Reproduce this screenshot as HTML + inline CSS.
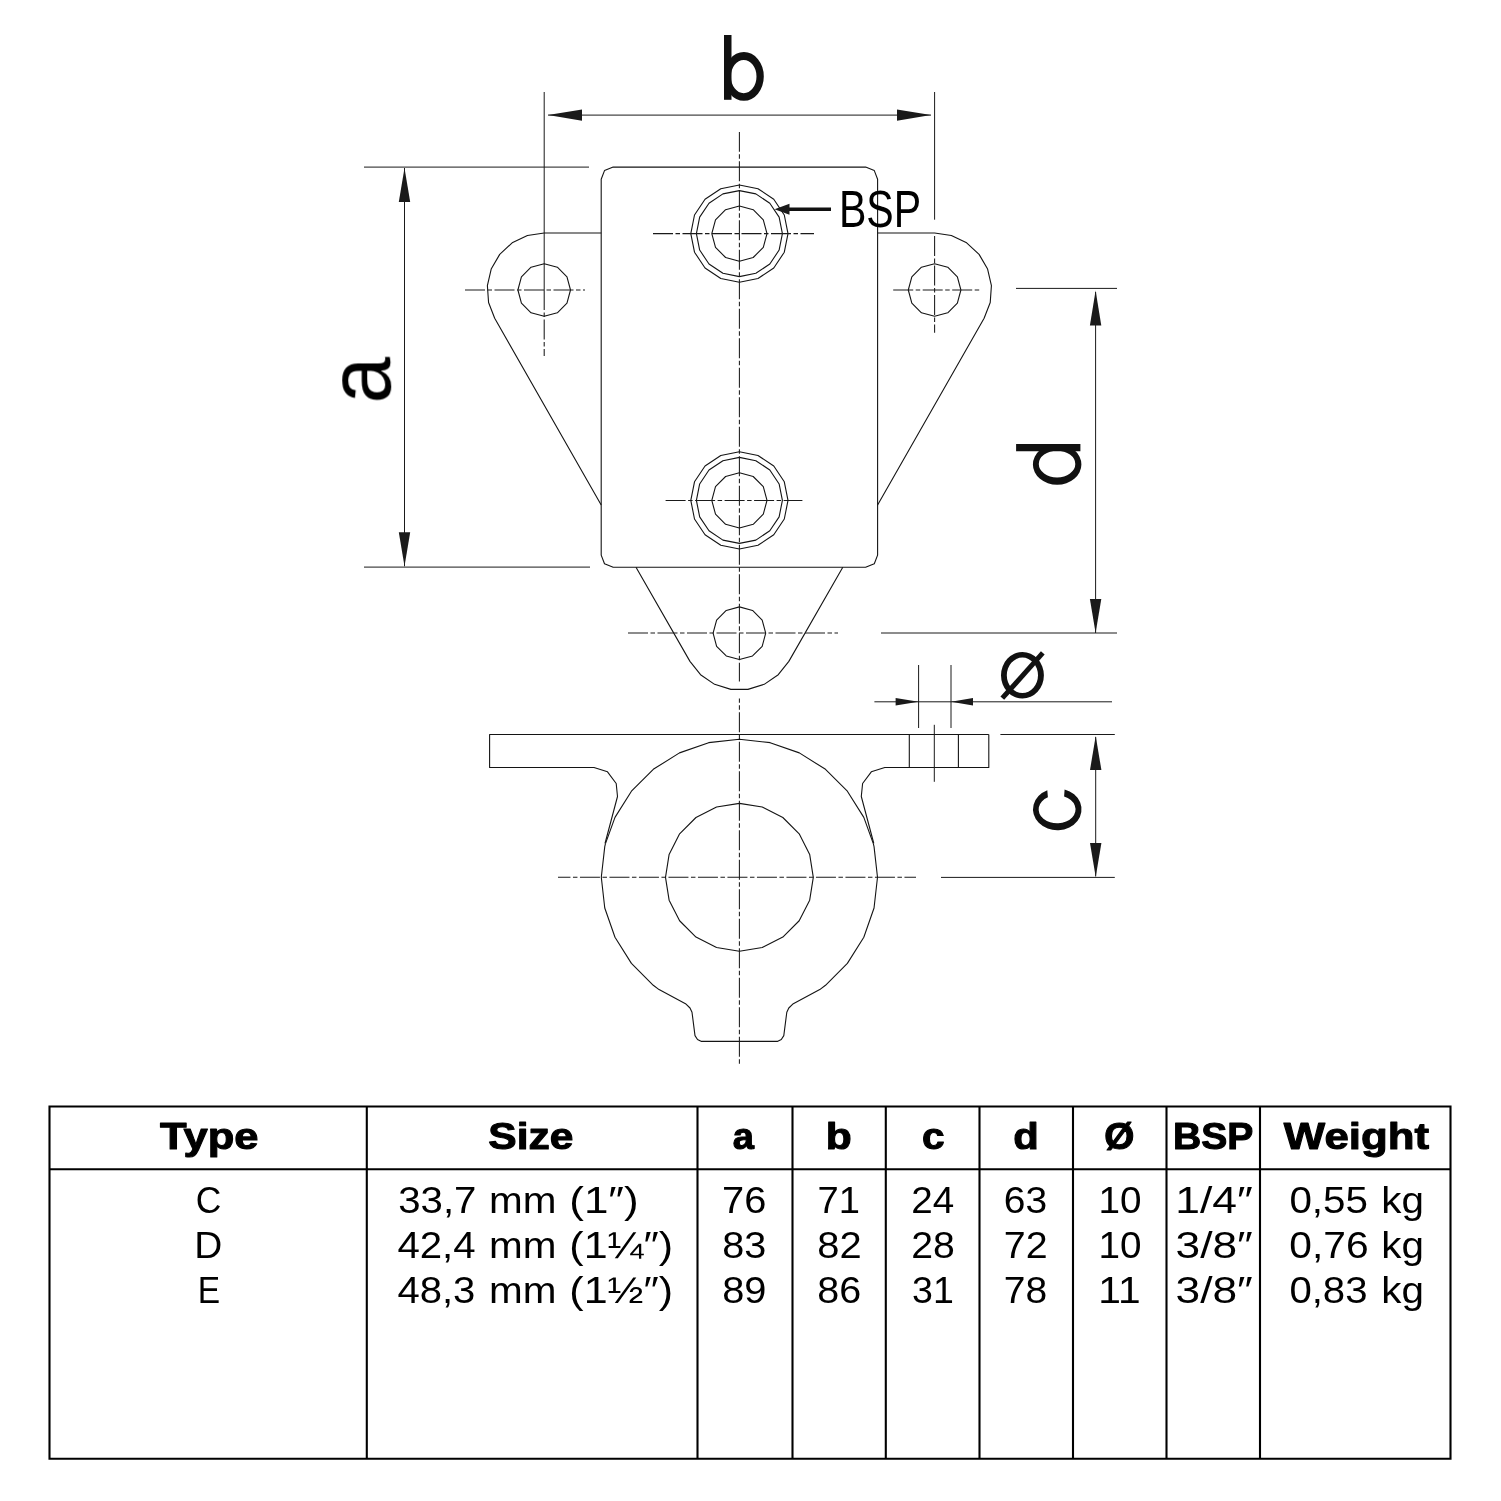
<!DOCTYPE html><html><head><meta charset="utf-8"><style>html,body{margin:0;padding:0;background:#fff;}svg{display:block}</style></head><body>
<svg width="1501" height="1501" viewBox="0 0 1501 1501">
<rect width="1501" height="1501" fill="#fff"/>
<g fill="none" stroke="#141414" stroke-width="1.1" stroke-linejoin="round"><path d="M601.2,179.3 604.5,170.6 613.2,167.1 865.6,167.1 874.3,170.6 877.6,179.3 877.6,555.1 874.3,563.8 865.6,567.3 613.2,567.3 604.5,563.8 601.2,555.1 Z"/><path d="M601.2,233 544.2,233 527.44,235.52 512.16,242.86 499.72,254.36 491.2,269.02 487.38,285.53 488.57,302.43 494.69,318.24 601.2,505"/><path d="M877.6,233 934.6,233 951.36,235.52 966.64,242.86 979.08,254.36 987.6,269.02 991.42,285.53 990.23,302.43 984.11,318.24 877.6,505"/><path d="M636,567.3 689.96,661.36 700.55,674.71 714.61,684.33 730.88,689.36 747.92,689.36 764.19,684.33 778.25,674.71 788.84,661.36 842.8,567.3"/><path d="M570.5,290 566.98,303.15 557.35,312.78 544.2,316.3 531.05,312.78 521.42,303.15 517.9,290 521.42,276.85 531.05,267.22 544.2,263.7 557.35,267.22 566.98,276.85 Z"/><path d="M960.9,290 957.38,303.15 947.75,312.78 934.6,316.3 921.45,312.78 911.82,303.15 908.3,290 911.82,276.85 921.45,267.22 934.6,263.7 947.75,267.22 957.38,276.85 Z"/><path d="M765.7,633.2 762.18,646.35 752.55,655.98 739.4,659.5 726.25,655.98 716.62,646.35 713.1,633.2 716.62,620.05 726.25,610.42 739.4,606.9 752.55,610.42 762.18,620.05 Z"/><path d="M788,233.6 784.3,252.2 773.77,267.97 758,278.5 739.4,282.2 720.8,278.5 705.03,267.97 694.5,252.2 690.8,233.6 694.5,215 705.03,199.23 720.8,188.7 739.4,185 758,188.7 773.77,199.23 784.3,215 Z"/><path d="M782.4,233.6 779.13,250.06 769.81,264.01 755.86,273.33 739.4,276.6 722.94,273.33 708.99,264.01 699.67,250.06 696.4,233.6 699.67,217.14 708.99,203.19 722.94,193.87 739.4,190.6 755.86,193.87 769.81,203.19 779.13,217.14 Z"/><path d="M767,233.6 763.3,247.4 753.2,257.5 739.4,261.2 725.6,257.5 715.5,247.4 711.8,233.6 715.5,219.8 725.6,209.7 739.4,206 753.2,209.7 763.3,219.8 Z"/><path d="M788,500.4 784.3,519 773.77,534.77 758,545.3 739.4,549 720.8,545.3 705.03,534.77 694.5,519 690.8,500.4 694.5,481.8 705.03,466.03 720.8,455.5 739.4,451.8 758,455.5 773.77,466.03 784.3,481.8 Z"/><path d="M782.4,500.4 779.13,516.86 769.81,530.81 755.86,540.13 739.4,543.4 722.94,540.13 708.99,530.81 699.67,516.86 696.4,500.4 699.67,483.94 708.99,469.99 722.94,460.67 739.4,457.4 755.86,460.67 769.81,469.99 779.13,483.94 Z"/><path d="M767,500.4 763.3,514.2 753.2,524.3 739.4,528 725.6,524.3 715.5,514.2 711.8,500.4 715.5,486.6 725.6,476.5 739.4,472.8 753.2,476.5 763.3,486.6 Z"/><path d="M988.8,734.5 L489.6,734.5 L489.6,767.5 L594,767.5 L607.5,771.8 L616.2,783.5 L617.5,796.5 L605,843.5"/><path d="M988.8,734.5 L988.8,767.5 L884.8,767.5 L871.3,771.8 L862.6,783.5 L861.3,796.5 L873.8,843.5"/><path d="M605.47,843.62 614.98,817.38 631.43,791.2 653.3,769.33 679.48,752.88 708.67,742.66 739.4,739.2 770.13,742.66 799.32,752.88 825.5,769.33 847.37,791.2 863.82,817.38 873.33,843.62"/><path d="M605.47,843.62 604.76,846.57 601.3,877.3 604.76,908.03 614.98,937.22 631.43,963.4 653.3,985.27 659.04,989.61 685.5,1003.7 690,1008 692,1012.2 695,1035.6 697.5,1039.5 701.5,1041.4 777.3,1041.4 781.3,1039.5 783.8,1035.6 786.8,1012.2 788.8,1008 793.3,1003.7 819.76,989.61 825.5,985.27 847.37,963.4 863.82,937.22 874.04,908.03 877.5,877.3 874.04,846.57 873.33,843.62"/><path d="M813.3,877.3 809.68,900.14 799.19,920.74 782.84,937.09 762.24,947.58 739.4,951.2 716.56,947.58 695.96,937.09 679.61,920.74 669.12,900.14 665.5,877.3 669.12,854.46 679.61,833.86 695.96,817.51 716.56,807.02 739.4,803.4 762.24,807.02 782.84,817.51 799.19,833.86 809.68,854.46 Z"/><path d="M909.3,734.5 L909.3,767.5 M958.4,734.5 L958.4,767.5"/></g>
<g fill="none" stroke="#1a1a1a" stroke-width="1.0"><path d="M934.3,724.8 L934.3,781.8"/><path d="M544.2,92 L544.2,290"/><path d="M934.6,92 L934.6,219.7"/><path d="M548,115.1 L931,115.1"/><path d="M364,167.1 L589,167.1"/><path d="M364,567.1 L590,567.1"/><path d="M404.5,168 L404.5,566.3"/><path d="M1016,288.4 L1117,288.4"/><path d="M881,633 L1117,633"/><path d="M1095.6,292 L1095.6,633"/><path d="M1000.4,734.5 L1114.8,734.5"/><path d="M941,877.4 L1114.8,877.4"/><path d="M1095.7,737 L1095.7,876.4"/><path d="M918.6,665 L918.6,728 M951,665 L951,728"/><path d="M874.4,701.8 L1112,701.8"/></g>
<g fill="none" stroke="#1a1a1a" stroke-width="1.05" stroke-dasharray="20 2.5 4.5 2.5"><path d="M739.4,131.9 L739.4,681.6" stroke-dashoffset="0.15"/><path d="M739.4,698.4 L739.4,1065.5" stroke-dashoffset="15.75"/><path d="M653,233.6 L814,233.6"/><path d="M665.6,500.4 L802.4,500.4"/><path d="M465,290 L585,290"/><path d="M893.2,290 L980,290"/><path d="M628,633 L838,633"/><path d="M544.2,290 L544.2,356"/><path d="M934.6,236 L934.6,332.7"/><path d="M558,877.3 L916,877.3" stroke-dashoffset="7.55"/></g>
<path d="M831,209.25 L788,209.25" stroke="#111" stroke-width="3.6" fill="none"/>
<g fill="#1a1a1a"><path d="M548,115.1 L582,109.4 L582,120.8 Z"/><path d="M931,115.1 L897,120.8 L897,109.4 Z"/><path d="M404.5,168 L410.2,202 L398.8,202 Z"/><path d="M404.5,566.3 L398.8,532.3 L410.2,532.3 Z"/><path d="M1095.6,290.6 L1101.3,325.6 L1089.9,325.6 Z"/><path d="M1095.6,633 L1089.9,599 L1101.3,599 Z"/><path d="M1095.7,736 L1101.4,770 L1090,770 Z"/><path d="M1095.7,877 L1090,843 L1101.4,843 Z"/><path d="M918.6,701.8 L895.6,705.6 L895.6,698 Z"/><path d="M951,701.8 L973,698 L973,705.6 Z"/><path d="M774.5,209.25 L789.5,203.65 L789.5,214.85 Z"/></g>
<g fill="#111" fill-rule="evenodd"><path d="M724,35 L731.5,35 L731.5,99.8 L724,99.8 Z"/><path d="M724,76.4 A19.9,24.4 0 1 1 763.8,76.4 A19.9,24.4 0 1 1 724,76.4 Z M730.9,76.6 A12.8,16.6 0 1 1 756.5,76.6 A12.8,16.6 0 1 1 730.9,76.6 Z"/><path d="M1016.1,444.1 L1080.4,444.1 L1080.4,451.3 L1016.1,451.3 Z"/><path d="M1032.9,464.45 A24.25,20.35 0 1 1 1081.4,464.45 A24.25,20.35 0 1 1 1032.9,464.45 Z M1038.8,464.05 A18.25,13.35 0 1 1 1075.3,464.05 A18.25,13.35 0 1 1 1038.8,464.05 Z"/><path d="M1047.3,790.24 A24.25,20.9 0 1 0 1064.6,789.38 L1064.1,796.55 A18.45,13.9 0 1 1 1047.9,797.33 Z"/><path d="M1001,675.3 A21.45,23.3 0 1 1 1043.9,675.3 A21.45,23.3 0 1 1 1001,675.3 Z M1006.8,675.3 A15.6,17.7 0 1 1 1038,675.3 A15.6,17.7 0 1 1 1006.8,675.3 Z"/><path d="M1004.16,699.87 L1044.66,654.57 L1040.94,651.23 L1000.44,696.53 Z"/></g>
<g fill="none" stroke="#000" stroke-width="2.1"><path d="M49.5,1106.5 L1450.5,1106.5 L1450.5,1458.7 L49.5,1458.7 Z"/><path d="M49.5,1169.2 L1450.5,1169.2"/><path d="M366.8,1106.5 L366.8,1458.7"/><path d="M697.5,1106.5 L697.5,1458.7"/><path d="M792.5,1106.5 L792.5,1458.7"/><path d="M885.8,1106.5 L885.8,1458.7"/><path d="M979.5,1106.5 L979.5,1458.7"/><path d="M1073.0,1106.5 L1073.0,1458.7"/><path d="M1166.5,1106.5 L1166.5,1458.7"/><path d="M1260.0,1106.5 L1260.0,1458.7"/></g>
<g font-family="&quot;Liberation Sans&quot;, sans-serif" font-size="200" fill="#000" style="will-change:transform"><text transform="matrix(0 -0.41863 0.44273 0 389.81 403.47)" font-weight="normal">a</text><text transform="matrix(0.20535 0 0 0.26056 838.91 227.28)" font-weight="normal">BSP</text><text transform="matrix(0.21783 0 0 0.18768 160.11 1149.45)" font-weight="bold" stroke="#000" stroke-width="5.440" stroke-linejoin="round">Type</text><text transform="matrix(0.21292 0 0 0.18768 488.27 1149.45)" font-weight="bold" stroke="#000" stroke-width="5.503" stroke-linejoin="round">Size</text><text transform="matrix(0.19057 0 0 0.18768 732.71 1149.45)" font-weight="bold" stroke="#000" stroke-width="5.816" stroke-linejoin="round">a</text><text transform="matrix(0.21287 0 0 0.18768 825.68 1149.45)" font-weight="bold" stroke="#000" stroke-width="5.503" stroke-linejoin="round">b</text><text transform="matrix(0.20309 0 0 0.18768 921.93 1149.45)" font-weight="bold" stroke="#000" stroke-width="5.634" stroke-linejoin="round">c</text><text transform="matrix(0.20891 0 0 0.18768 1013.28 1149.45)" font-weight="bold" stroke="#000" stroke-width="5.555" stroke-linejoin="round">d</text><text transform="matrix(0.19353 0 0 0.18768 1104.30 1149.45)" font-weight="bold" stroke="#000" stroke-width="5.772" stroke-linejoin="round">Ø</text><text transform="matrix(0.19514 0 0 0.18768 1173.01 1149.45)" font-weight="bold" stroke="#000" stroke-width="5.748" stroke-linejoin="round">BSP</text><text transform="matrix(0.21909 0 0 0.18768 1283.85 1149.45)" font-weight="bold" stroke="#000" stroke-width="5.425" stroke-linejoin="round">Weight</text><text transform="matrix(0.17698 0 0 0.18043 195.63 1212.90)" font-weight="normal">C</text><text transform="matrix(0.20108 0 0 0.18043 398.19 1212.90)" font-weight="normal">33,7</text><text transform="matrix(0.20261 0 0 0.18043 489.07 1212.90)" font-weight="normal">mm</text><text transform="matrix(0.21993 0 0 0.18043 569.26 1212.90)" font-weight="normal">(1″)</text><text transform="matrix(0.19902 0 0 0.18043 722.01 1212.90)" font-weight="normal">76</text><text transform="matrix(0.19064 0 0 0.18043 817.59 1212.90)" font-weight="normal">71</text><text transform="matrix(0.19324 0 0 0.18043 911.27 1212.90)" font-weight="normal">24</text><text transform="matrix(0.19510 0 0 0.18043 1003.85 1212.90)" font-weight="normal">63</text><text transform="matrix(0.19350 0 0 0.18043 1098.40 1212.90)" font-weight="normal">10</text><text transform="matrix(0.22212 0 0 0.18043 1175.27 1212.90)" font-weight="normal">1/4″</text><text transform="matrix(0.20188 0 0 0.18043 1289.38 1212.90)" font-weight="normal">0,55</text><text transform="matrix(0.20216 0 0 0.18043 1381.17 1212.90)" font-weight="normal">kg</text><text transform="matrix(0.19412 0 0 0.18043 194.29 1257.60)" font-weight="normal">D</text><text transform="matrix(0.20106 0 0 0.18043 397.39 1257.60)" font-weight="normal">42,4</text><text transform="matrix(0.20261 0 0 0.18043 489.07 1257.60)" font-weight="normal">mm</text><text transform="matrix(0.21528 0 0 0.18043 569.32 1257.60)" font-weight="normal">(1¼″)</text><text transform="matrix(0.19805 0 0 0.18043 722.22 1257.60)" font-weight="normal">83</text><text transform="matrix(0.19951 0 0 0.18043 817.20 1257.60)" font-weight="normal">82</text><text transform="matrix(0.19608 0 0 0.18043 911.24 1257.60)" font-weight="normal">28</text><text transform="matrix(0.19703 0 0 0.18043 1003.83 1257.60)" font-weight="normal">72</text><text transform="matrix(0.19350 0 0 0.18043 1098.40 1257.60)" font-weight="normal">10</text><text transform="matrix(0.22136 0 0 0.18043 1175.53 1257.60)" font-weight="normal">3/8″</text><text transform="matrix(0.20376 0 0 0.18043 1289.37 1257.60)" font-weight="normal">0,76</text><text transform="matrix(0.20216 0 0 0.18043 1381.17 1257.60)" font-weight="normal">kg</text><text transform="matrix(0.16789 0 0 0.18043 197.81 1302.50)" font-weight="normal">E</text><text transform="matrix(0.20027 0 0 0.18043 397.40 1302.50)" font-weight="normal">48,3</text><text transform="matrix(0.20261 0 0 0.18043 489.07 1302.50)" font-weight="normal">mm</text><text transform="matrix(0.21528 0 0 0.18043 569.32 1302.50)" font-weight="normal">(1½″)</text><text transform="matrix(0.19902 0 0 0.18043 722.21 1302.50)" font-weight="normal">89</text><text transform="matrix(0.19756 0 0 0.18043 817.22 1302.50)" font-weight="normal">86</text><text transform="matrix(0.18780 0 0 0.18043 912.00 1302.50)" font-weight="normal">31</text><text transform="matrix(0.19510 0 0 0.18043 1003.85 1302.50)" font-weight="normal">78</text><text transform="matrix(0.20383 0 0 0.18043 1098.24 1302.50)" font-weight="normal">11</text><text transform="matrix(0.22136 0 0 0.18043 1175.53 1302.50)" font-weight="normal">3/8″</text><text transform="matrix(0.20081 0 0 0.18043 1289.39 1302.50)" font-weight="normal">0,83</text><text transform="matrix(0.20216 0 0 0.18043 1381.17 1302.50)" font-weight="normal">kg</text></g>
</svg></body></html>
